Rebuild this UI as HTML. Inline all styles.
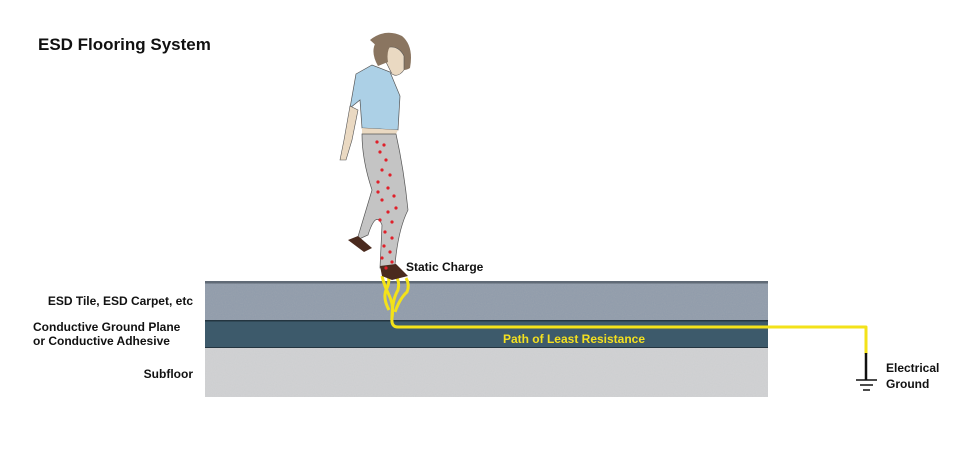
<!DOCTYPE html>
<html><head><meta charset="utf-8"><style>
html,body{margin:0;padding:0;background:#fff}
svg{display:block}
text{font-family:"Liberation Sans",sans-serif;font-weight:bold}
</style></head><body>
<svg width="980" height="453" viewBox="0 0 980 453" xmlns="http://www.w3.org/2000/svg">
<defs>
<filter id="n"><feTurbulence type="fractalNoise" baseFrequency="0.9" numOctaves="2" seed="3"/><feColorMatrix values="0 0 0 0 0.5 0 0 0 0 0.5 0 0 0 0 0.5 0 0 0 0.25 0"/><feComposite in2="SourceGraphic" operator="in"/></filter>
</defs>
<text x="38" y="50" font-size="17" fill="#111">ESD Flooring System</text>
<rect x="205" y="283" width="563" height="37" fill="#8e9aaa"/>
<rect x="205" y="283" width="563" height="37" fill="#fff" filter="url(#n)"/>
<rect x="205" y="281" width="563" height="2.5" fill="#606a76"/>
<rect x="205" y="320" width="563" height="28" fill="#3d5a6b"/>
<rect x="205" y="320" width="563" height="1.5" fill="#243540"/>
<rect x="205" y="347" width="563" height="1.2" fill="#243540"/>
<rect x="205" y="348" width="563" height="49" fill="#d2d3d5"/>
<rect x="205" y="348" width="563" height="49" fill="#fff" filter="url(#n)"/>
<g font-size="12" fill="#111">
<text x="193" y="305" text-anchor="end">ESD Tile, ESD Carpet, etc</text>
<text x="33" y="331">Conductive Ground Plane</text>
<text x="33" y="345">or Conductive Adhesive</text>
<text x="193" y="378" text-anchor="end">Subfloor</text>
</g>
<text x="406" y="271" font-size="12" fill="#111">Static Charge</text>
<text x="574" y="343" font-size="12" fill="#f4e020" text-anchor="middle">Path of Least Resistance</text>
<text x="886" y="372" font-size="12" fill="#111">Electrical</text>
<text x="886" y="388" font-size="12" fill="#111">Ground</text>
<g fill="none" stroke="#f3e21a" stroke-width="3" stroke-linejoin="round">
<path d="M866 354 V327 H398 Q391 327 392 318 Q394 305 389 295 Q384 285 382 276"/>
<path d="M392 318 Q392 300 398 290 Q400 282 396 276"/>
<path d="M395 312 Q400 298 407 292 Q410 285 406 278"/>
<path d="M389 310 Q382 297 387 288 Q390 281 388 276"/>
</g>
<path d="M866 353 V380" stroke="#111" stroke-width="2.5"/>
<g stroke="#111" stroke-width="1.5"><path d="M856 380 H877 M860 385 H873 M863 390 H870"/></g>
<g>
<path d="M370 40 Q385 28 402 36 Q414 46 410 68 Q404 72 396 68 L390 58 Z" fill="#8a7560"/>
<path d="M385 48 Q398 44 404 56 L404 70 Q398 78 392 74 L385 60 Z" fill="#ead9c2" stroke="#555" stroke-width="0.6"/>
<path d="M376 42 Q370 52 378 66 L388 62 Q386 50 392 44 Z" fill="#8a7560"/>
<path d="M356 74 L372 65 L390 72 L400 96 L398 130 L362 128 L360 100 L350 108 Z" fill="#acd0e6" stroke="#555" stroke-width="0.7"/>
<path d="M350 106 L344 140 L340 160 L346 160 L352 140 L358 110 Z" fill="#ead9c2" stroke="#555" stroke-width="0.6"/>
<path d="M362 128 L398 130 L396 134 L362 134 Z" fill="#ead9c2"/>
<path d="M362 134 L396 134 Q404 170 408 210 Q398 230 395 265 L380 268 L382 225 Q376 210 368 235 L357 240 L372 190 Q362 160 362 134 Z" fill="#c4c4c4" stroke="#555" stroke-width="0.7"/>
<path d="M348 240 L358 236 L372 248 L364 252 Z" fill="#4a2a1e"/>
<path d="M380 266 L396 264 L408 276 L392 280 L382 276 Z" fill="#4a2a1e"/>
<g fill="#e0202a">
<circle cx="377" cy="142" r="1.6"/><circle cx="380" cy="152" r="1.6"/><circle cx="386" cy="160" r="1.6"/><circle cx="382" cy="170" r="1.6"/><circle cx="390" cy="175" r="1.6"/><circle cx="378" cy="182" r="1.6"/><circle cx="388" cy="188" r="1.6"/><circle cx="394" cy="196" r="1.6"/><circle cx="382" cy="200" r="1.6"/><circle cx="396" cy="208" r="1.6"/><circle cx="388" cy="212" r="1.6"/><circle cx="380" cy="220" r="1.6"/><circle cx="392" cy="222" r="1.6"/><circle cx="385" cy="232" r="1.6"/><circle cx="392" cy="238" r="1.6"/><circle cx="384" cy="246" r="1.6"/><circle cx="390" cy="252" r="1.6"/><circle cx="382" cy="258" r="1.6"/><circle cx="392" cy="262" r="1.6"/><circle cx="386" cy="268" r="1.6"/><circle cx="378" cy="192" r="1.6"/><circle cx="384" cy="145" r="1.6"/>
</g>
</g>
</svg>
</body></html>
